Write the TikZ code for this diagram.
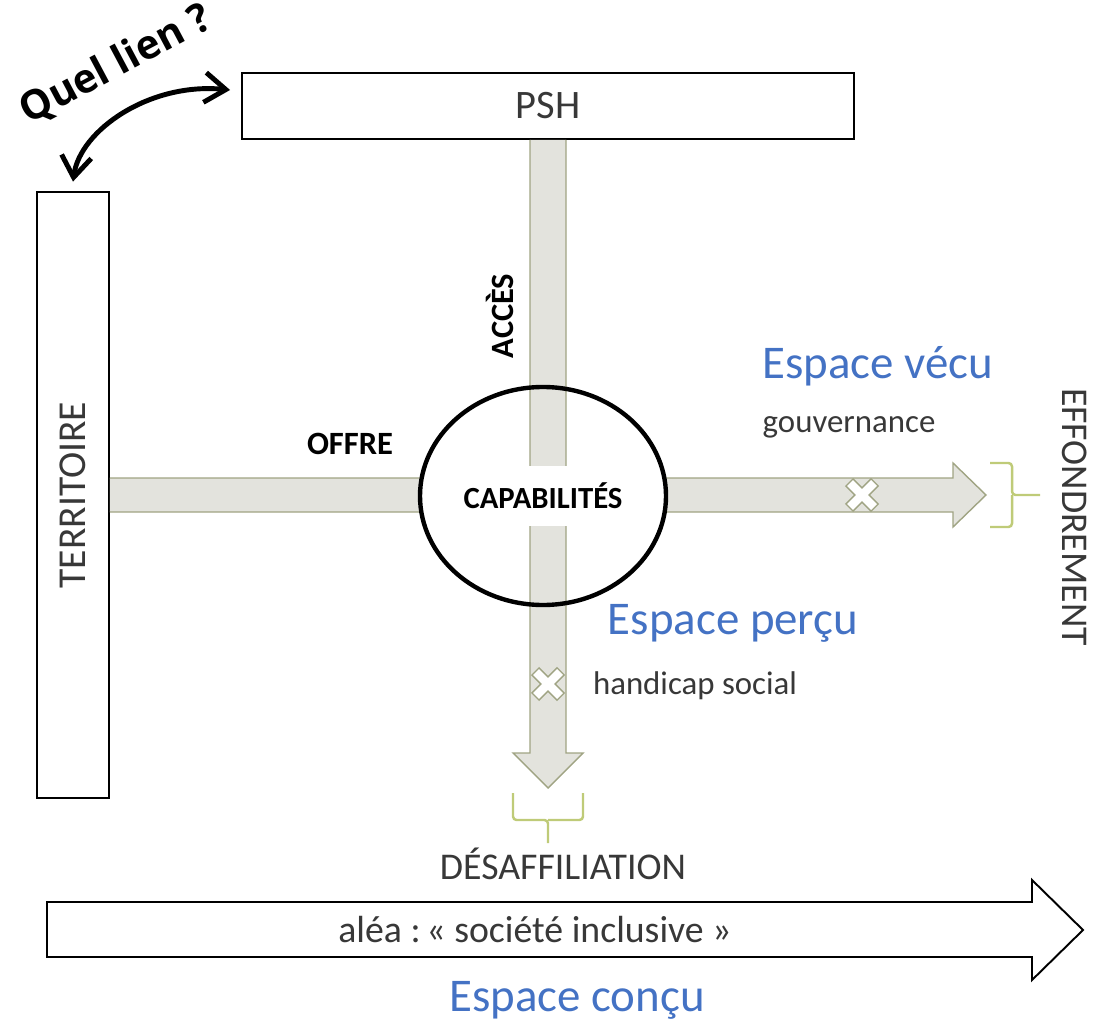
\documentclass[tikz,border=0pt]{standalone}
\usepackage{fontspec}
\setmainfont{Carlito}
\newfontfamily\lienfont{Open Sans}
\usetikzlibrary{arrows.meta,calc}
\definecolor{barfill}{HTML}{E3E3DD}
\definecolor{barline}{HTML}{A0A483}
\definecolor{accol}{HTML}{BFCB78}
\definecolor{espbleu}{HTML}{4472C4}
\definecolor{texte}{HTML}{383838}
\tikzset{
  boite/.style={draw=black, line width=1.1pt, fill=white, text=texte,
    font=\fontsize{23}{27}\selectfont},
  bande/.style={draw=barline, fill=barfill, line width=0.8pt},
  espace/.style={text=espbleu, font=\fontsize{26.7}{30}\selectfont},
  petit/.style={text=texte, font=\fontsize{18.7}{22}\selectfont},
  moyen/.style={text=texte, font=\fontsize{21.5}{25}\selectfont},
  gras/.style={text=black, font=\bfseries\fontsize{18.5}{22}\selectfont},
  accolade/.style={draw=accol, line width=1.4pt, rounded corners=2pt},
}
\begin{document}
\begin{tikzpicture}[x=0.02cm, y=-0.02cm]
  \useasboundingbox (0,0) rectangle (1097,1026);
  % the two boxes
  \node[boite, minimum width=348.3pt, minimum height=37.6pt] (psh) at (548,106) {PSH};
  \node[boite, minimum width=41pt, minimum height=345.4pt] (terr) at (73,495) {};
  \node[text=texte, font=\fontsize{22.5}{27}\selectfont, rotate=90] (terrtxt) at (terr) {TERRITOIRE};

  % offre -> effondrement
  \draw[bande] (terr.east) ++(0,-17) -- ++(843,0) -- ++(0,-15) -- ++(33,32)
    -- ++(-33,32) -- ++(0,-15) -- ++(-843,0);
  \coordinate (cap) at (543,496);
  \fill[white] (cap) ellipse (125 and 111);
  % acces -> desaffiliation
  \draw[bande] (psh.south) ++(-18,0) -- ++(0,613) -- ++(-17,0) -- ++(35,35)
    -- ++(35,-35) -- ++(-17,0) -- ++(0,-613);
  \node[fill=white, minimum height=34pt, inner xsep=2pt, text=black,
    font=\bfseries\fontsize{17.5}{20}\selectfont] (capa) at (cap) {CAPABILITÉS};
  \draw[line width=2.5pt] (cap) ellipse (123 and 109);

  % crosses
  \coordinate (x1) at (862,495);
  \coordinate (x2) at (548,684);
  \foreach \c in {x1,x2} {
    \draw[barline, line width=6.5pt] (\c) ++(-13,-13) -- ++(26,26);
    \draw[barline, line width=6.5pt] (\c) ++(-13,13) -- ++(26,-26);
    \draw[white, line width=4.8pt] (\c) ++(-12,-12) -- ++(24,24);
    \draw[white, line width=4.8pt] (\c) ++(-12,12) -- ++(24,-24);
  }

  % braces
  \draw[accolade] (990,463) -- (1012,463) -- (1012,495) -- (1040,495);
  \draw[accolade] (1012,495) -- (1012,527) -- (990,527);
  \draw[accolade] (513,793) -- (513,820) -- (548,820) -- (548,843);
  \draw[accolade] (548,820) -- (583,820) -- (583,793);

  % labels
  \node[gras] (offre) at (350,444) {OFFRE};
  \node[gras, rotate=90] (acces) at (500,316) {ACCÈS};
  \node[espace] (vecu) at (878,366) {Espace vécu};
  \node[petit] (gouv) at (849,427) {gouvernance};
  \node[moyen, rotate=-90] (effo) at (1075,517) {EFFONDREMENT};
  \node[espace] (percu) at (733,623) {Espace perçu};
  \node[petit] (hand) at (695,686) {handicap social};
  \node[moyen] (desa) at (563,864) {DÉSAFFILIATION};

  % alea arrow
  \draw[line width=1.1pt, fill=white] (47,902) -- (1032,902) -- (1032,880)
    -- (1083,930) -- (1032,980) -- (1032,957) -- (47,957) -- cycle;
  \node[moyen] (alea) at (535,930) {aléa :\kern-0.15em{} « société inclusive »};
  \node[espace] (concu) at (577,1000) {Espace conçu};

  % quel lien ?
  \draw[line width=2.8pt, {Straight Barb[length=12pt,width=17pt]}-{Straight Barb[length=12pt,width=17pt]}]
    ($(terr.north)+(0,-9)$) .. controls (80,130) and (150,82) .. ($(psh.west)+(-11,-16)$);
  \node[rotate=28, font=\lienfont\bfseries\fontsize{23}{28}\selectfont] (lien) at (116,65) {Quel lien ?};
\end{tikzpicture}
\end{document}
